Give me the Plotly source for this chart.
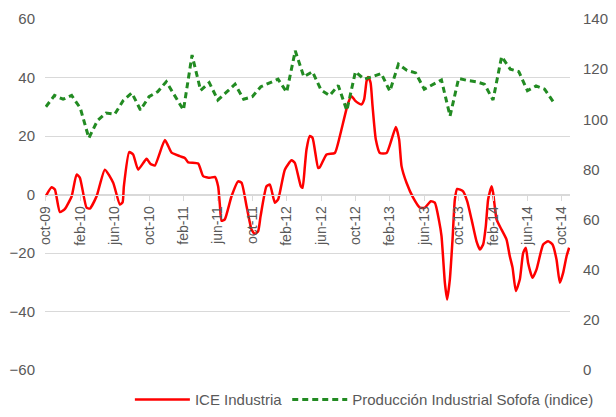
import plotly.graph_objects as go

# month index 0 = oct-09
tick_vals = list(range(0, 61, 4))
tick_text = ['oct-09', 'feb-10', 'jun-10', 'oct-10', 'feb-11', 'jun-11', 'oct-11', 'feb-12',
             'jun-12', 'oct-12', 'feb-13', 'jun-13', 'oct-13', 'feb-14', 'jun-14', 'oct-14']

# Producción Industrial Sofofa (indice), monthly oct-09 .. sep-14
sofofa_month = list(range(60))
sofofa = [105, 109.5, 108, 109.5, 104.5, 92.5, 99.5, 102.5, 102, 107.5,
          110.5, 103.7, 109, 111, 115, 109.5, 103.7, 125.6, 111.5, 114.6,
          107.7, 110.8, 114, 108, 109, 113, 114.6, 116, 110.8, 127.3,
          117, 119, 111.7, 109.5, 113.5, 103.5, 119, 116, 117, 118.3,
          111.2, 122, 119.5, 118.5, 112, 114, 115.7, 101.3, 116.3, 115.5,
          115, 114, 107.7, 125, 120, 119, 111.4, 113.3, 112, 107]

# ICE Industria
ice_month = [0, 0.66, 1.05, 1.63, 2.2, 3.0, 3.57, 3.95, 4.73, 5.12,
             5.9, 6.86, 7.83, 8.6, 8.92, 9.07, 9.69, 10.15, 10.73, 11.71,
             12.15, 12.67, 13.84, 14.62, 15.58, 16.16, 16.55, 17.71, 18.29, 19.07,
             19.65, 20.03, 20.23, 20.43, 20.81, 21.59, 22.36, 22.76, 23.34, 23.92,
             24.3, 24.69, 24.97, 25.66, 26.05, 26.63, 27.01, 27.79, 28.57, 28.95,
             29.65, 29.85, 30.12, 30.31, 30.7, 31.01, 31.66, 31.86, 32.64, 33.6,
             34.19, 35.15, 35.55, 35.93, 36.31, 36.71, 37.01, 37.29, 37.48, 37.76,
             37.99, 38.37, 38.84, 39.62, 40.2, 40.7, 41.08, 41.36, 41.94, 42.71,
             43.49, 44.07, 44.77, 45.23, 45.73, 46.01, 46.4, 46.66, 46.98, 47.29,
             47.56, 47.83, 48.52, 48.99, 49.5, 50.08, 50.47, 50.85, 51.16, 51.43,
             51.83, 52.01, 52.41, 52.99, 53.57, 53.95, 54.27, 54.65, 55.12, 55.5,
             55.81, 56.08, 56.59, 57.06, 57.83, 58.41, 58.92, 59.38, 59.77, 60.15,
             60.55, 60.85]
ice = [-0.5, 2.5, 1.7, -6, -5, -0.6, 6.8, 5.8, -4.5, -4.8,
       -0.6, 8.5, 4, -3.4, -2.7, 2.8, 14.5, 13.7, 8.5, 12.2,
       10.5, 9.9, 18.6, 14.3, 13.1, 12.5, 11, 10.6, 6.3, 5.7,
       6, 2.8, -3.4, -9, -8.5, -0.6, 4.5, 4, -4, -12,
       -13.5, -12.5, -7.4, 2.8, 3.4, -2.8, -1.7, 8.5, 11.7, 10.8,
       2.8, 2.3, 9.7, 15.4, 20, 19.4, 9.1, 9.3, 13.7, 14.2,
       20, 31.3, 33.6, 32.2, 31.3, 30.8, 32.5, 38.7, 40.2, 38.2,
       30.2, 18.8, 14.2, 14.2, 18.8, 23.1, 18.8, 9.7, 4, -1.1,
       -4.5, -4.5, -2.3, -2.8, -9.1, -14.2, -30.2, -35.9, -29, -15.4,
       -1.7, 1.9, 1.1, -2.3, -8.5, -16, -18.8, -17.1, -10.8, -1.7,
       2.8, 0.6, -8.5, -12, -15.4, -21.1, -25, -33, -29, -20,
       -18.2, -23.4, -28.5, -25.6, -17.1, -16, -17.1, -22.2, -30.2, -26.8,
       -21.1, -18.2]

grey = '#595959'
grid = '#d9d9d9'

fig = go.Figure()

fig.add_trace(go.Scatter(
    x=ice_month, y=ice, name='ICE Industria', mode='lines',
    line=dict(color='#ff0000', width=2.5, shape='spline', smoothing=0.5),
    yaxis='y', legendrank=1
))
fig.add_trace(go.Scatter(
    x=sofofa_month, y=sofofa, name='Producción Industrial Sofofa (indice)', mode='lines',
    line=dict(color='#228b22', width=3, dash='6px,4px'),
    yaxis='y2', legendrank=2
))

# the page body adds 8px top/left, so margins are shifted to compensate
fig.update_layout(
    width=616, height=417,
    margin=dict(l=37, r=54, t=11, b=55, autoexpand=False),
    paper_bgcolor='white', plot_bgcolor='white',
    font=dict(family='Liberation Sans', size=15, color=grey),
    showlegend=True,
    legend=dict(
        orientation='h', x=1.055, xanchor='right', y=-0.085, yanchor='middle',
        font=dict(size=15, color=grey), itemwidth=55, tracegroupgap=0,
        bgcolor='rgba(0,0,0,0)'
    ),
    xaxis=dict(
        range=[-0.1, 60.95],
        tickmode='array', tickvals=tick_vals, ticktext=tick_text,
        tickangle=-90, tickfont=dict(size=14, color=grey),
        anchor='free', position=0.5,
        showline=True, linecolor=grid, linewidth=1,
        ticks='outside', ticklen=5, tickcolor=grid,
        showgrid=False, zeroline=False
    ),
    yaxis=dict(
        range=[-60, 60], dtick=20, tick0=0,
        showgrid=True, gridcolor=grid, gridwidth=1,
        zeroline=False, showline=False,
        ticklabelstandoff=9,
        tickfont=dict(size=15, color=grey)
    ),
    yaxis2=dict(
        range=[0, 140], dtick=20, tick0=0,
        overlaying='y', side='right',
        showgrid=False, zeroline=False, showline=False,
        ticklabelstandoff=12,
        tickfont=dict(size=15, color=grey)
    )
)

fig.write_html("out.html")
